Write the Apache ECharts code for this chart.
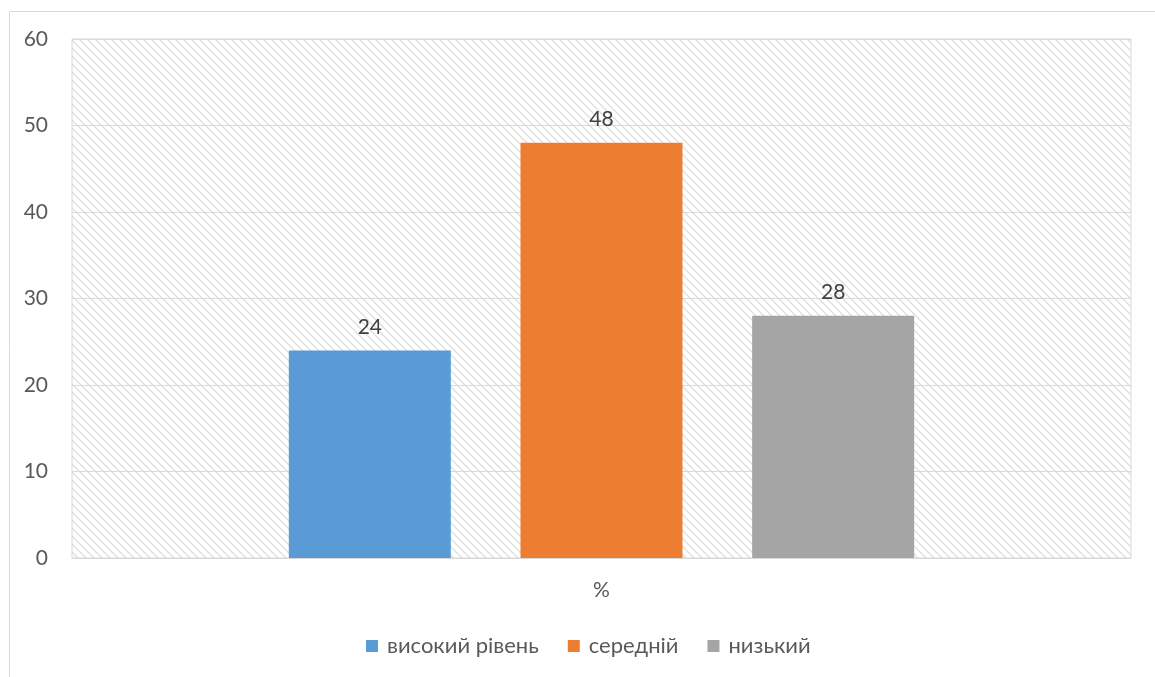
<!DOCTYPE html>
<html>
<head>
<meta charset="utf-8">
<script src="https://cdn.jsdelivr.net/npm/echarts@6/dist/echarts.min.js"></script>
<style>
html,body{margin:0;padding:0;background:#fff;}
#chart{width:1155px;height:677px;}
</style>
</head>
<body>
<div id="chart"></div>
<script>
const categories = ['%'];
const seriesNames = ['високий рівень', 'середній', 'низький'];
const seriesValues = [[24], [48], [28]];
const colors = ['#5b9bd5', '#ed7d31', '#a5a5a5'];
const yTicks = [0, 10, 20, 30, 40, 50, 60];

function makePattern() {
  const c = document.createElement('canvas');
  c.width = 8; c.height = 8;
  const g = c.getContext('2d');
  g.fillStyle = '#ffffff';
  g.fillRect(0, 0, 8, 8);
  g.strokeStyle = '#dedede';
  g.lineWidth = 1.3;
  g.beginPath();
  g.moveTo(-2, -2); g.lineTo(10, 10);
  g.moveTo(-10, -2); g.lineTo(2, 10);
  g.moveTo(6, -2); g.lineTo(18, 10);
  g.stroke();
  return c;
}

const font = 'Lato, "Open Sans", sans-serif';
const chart = echarts.init(document.getElementById('chart'));
chart.setOption({
  animation: false,
  backgroundColor: '#ffffff',
  graphic: [{
    type: 'rect', left: 7, top: 9, silent: true, z: -10,
    shape: { width: 1200, height: 700 },
    style: { fill: 'none', stroke: '#d9d9d9', lineWidth: 1 }
  }],
  grid: {
    left: 72, right: 24, top: 39, bottom: 119,
    show: true,
    backgroundColor: { image: makePattern(), repeat: 'repeat' },
    borderColor: '#d9d9d9', borderWidth: 1
  },
  legend: {
    left: 361, top: 630,
    itemWidth: 12, itemHeight: 12, itemGap: 29,
    icon: 'rect',
    textStyle: { fontFamily: font, fontSize: 22, color: '#595959', padding: [0, 0, 0, 4] },
    data: seriesNames
  },
  xAxis: {
    type: 'category',
    data: categories,
    axisLine: { show: true, lineStyle: { color: '#d9d9d9' } },
    axisTick: { show: false },
    axisLabel: { fontFamily: font, fontSize: 21, color: '#595959', margin: 22 }
  },
  yAxis: {
    type: 'value', min: yTicks[0], max: yTicks[yTicks.length - 1], interval: 10,
    axisLine: { show: false },
    axisTick: { show: false },
    splitLine: { lineStyle: { color: '#d9d9d9' } },
    axisLabel: { fontFamily: font, fontSize: 21, color: '#595959', margin: 24 }
  },
  series: seriesNames.map((n, i) => ({
    name: n,
    type: 'bar',
    data: seriesValues[i],
    barWidth: 162,
    barGap: '43%',
    itemStyle: { color: colors[i] },
    label: {
      show: true, position: 'top', distance: 13,
      fontFamily: font, fontSize: 21, color: '#404040'
    }
  }))
});
</script>
</body>
</html>
